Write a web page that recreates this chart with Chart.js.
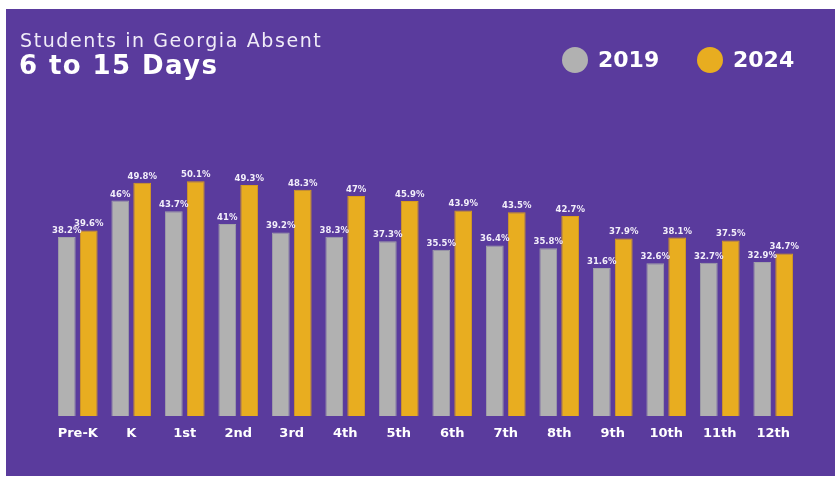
<!DOCTYPE html>
<html>
<head>
<meta charset="utf-8">
<script src="https://cdn.jsdelivr.net/npm/chart.js@4/dist/chart.umd.min.js"></script>
<style>
  html, body { margin: 0; padding: 0; background: #fff; }
  #wrap { position: relative; width: 835px; height: 477px; overflow: hidden; }
  #panel { position: absolute; left: 6px; top: 9px; right: 0; bottom: 1px; background: #5a3b9d; }
  canvas { position: absolute; left: 0; top: 0; }
  .txt { position: absolute; line-height: 1; white-space: nowrap; font-family: 'DejaVu Sans', sans-serif; }
  .t1 { left: 20px; top: 30.5px; color: #f0ecf8; font-size: 19px; letter-spacing: 1.6px; }
  .t2 { left: 19px; top: 52px; color: #fff; font-size: 26px; font-weight: 700; letter-spacing: 1.4px; }
  .leg { top: 48.5px; color: #fff; font-size: 22px; font-weight: 700; }
  .dot { position: absolute; top: 47px; width: 26px; height: 26px; border-radius: 50%; }
</style>
</head>
<body>
<div id="wrap">
  <div id="panel"></div>
  <canvas id="chart" width="835" height="477"></canvas>
  <div class="txt t1">Students in Georgia Absent</div>
  <div class="txt t2">6 to 15 Days</div>
  <div class="dot" style="left:562px; background:#b1b1b1"></div>
  <div class="txt leg" style="left:598px">2019</div>
  <div class="dot" style="left:697px; background:#e8ad20"></div>
  <div class="txt leg" style="left:733px">2024</div>
</div>
<script>
// grade levels and share of students absent 6-15 days
const grades = ['Pre-K', 'K', '1st', '2nd', '3rd', '4th', '5th', '6th', '7th', '8th', '9th', '10th', '11th', '12th'];
const values2019 = [38.2, 46, 43.7, 41, 39.2, 38.3, 37.3, 35.5, 36.4, 35.8, 31.6, 32.6, 32.7, 32.9];
const values2024 = [39.6, 49.8, 50.1, 49.3, 48.3, 47, 45.9, 43.9, 43.5, 42.7, 37.9, 38.1, 37.5, 34.7];

const grayBar = '#b1b1b1';
const goldBar = '#e8ad20';

// draws the percentage above every bar
const valueLabels = {
    id: 'valueLabels',
    afterDatasetsDraw(chart) {
        const ctx = chart.ctx;
        ctx.save();
        ctx.fillStyle = '#f2eefa';
        ctx.font = "700 8.5px 'DejaVu Sans'";
        ctx.textAlign = 'center';
        ctx.textBaseline = 'bottom';
        chart.data.datasets.forEach((ds, i) => {
            chart.getDatasetMeta(i).data.forEach((bar, j) => {
                ctx.fillText(ds.data[j] + '%', bar.x, bar.y - 2);
            });
        });
        ctx.restore();
    }
};

new Chart(document.getElementById('chart'), {
    type: 'bar',
    data: {
        labels: grades,
        datasets: [{
            label: '2019',
            data: values2019,
            backgroundColor: grayBar,
            borderColor: '#a2a2a8',
            borderWidth: 1
        }, {
            label: '2024',
            data: values2024,
            backgroundColor: goldBar,
            borderColor: '#d99d1c',
            borderWidth: 1
        }]
    },
    options: {
        responsive: false,
        animation: false,
        categoryPercentage: 0.82,
        barPercentage: 0.81,
        layout: { padding: { left: 51, right: 35, top: 135, bottom: 31 } },
        scales: {
            x: {
                grid: { display: false },
                border: { display: false },
                ticks: { color: '#fff', font: { family: "'DejaVu Sans'", size: 13, weight: '700' }, padding: 2 },
                afterFit: s => { s.height = 30; }
            },
            y: { display: false, min: 0, max: 60 }
        },
        plugins: {
            legend: { display: false },
            tooltip: { enabled: false }
        }
    },
    plugins: [valueLabels]
});
</script>
</body>
</html>
